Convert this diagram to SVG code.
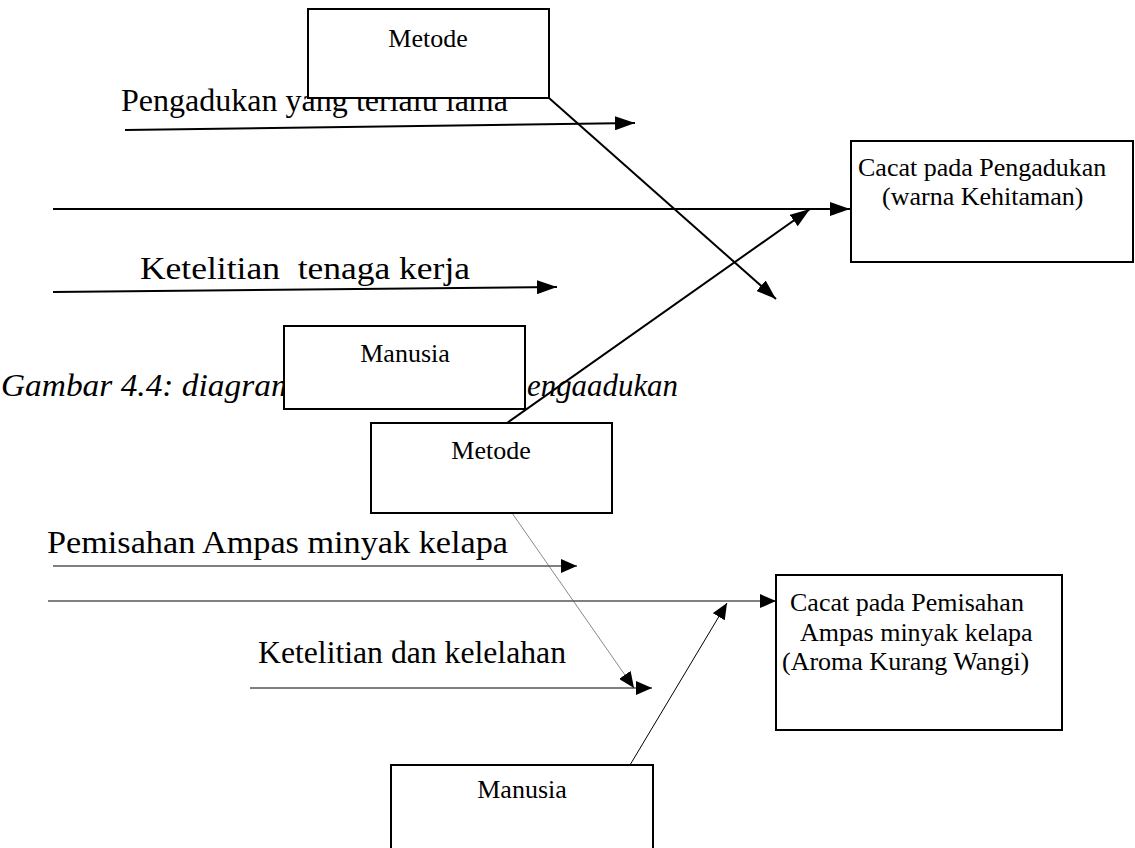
<svg xmlns="http://www.w3.org/2000/svg" width="1135" height="848" viewBox="0 0 1135 848">
<style>
.box{fill:#fff;stroke:#000;stroke-width:2}
.t{font-family:"Liberation Serif","Times New Roman",serif;fill:#000}
.lab{font-size:26px}
.big{font-size:31px}
.mid{font-size:26px}
.cap{font-size:31px;font-style:italic}
.thick{stroke:#000;stroke-width:2;fill:none}
.thin{stroke:#000;stroke-width:1;fill:none}
.hair{stroke:#555;stroke-width:0.7;fill:none}
</style>
<defs>
<marker id="ah" markerUnits="userSpaceOnUse" markerWidth="20" markerHeight="14" viewBox="0 0 20 14" refX="20" refY="7" orient="auto"><path d="M0,0L20,7L0,14Z" fill="#000"/></marker>
<marker id="ahs" markerUnits="userSpaceOnUse" markerWidth="16" markerHeight="14" viewBox="0 0 16 14" refX="16" refY="7" orient="auto"><path d="M0,0L16,7L0,14Z" fill="#000"/></marker>
</defs>
<rect width="1135" height="848" fill="#fff"/>
<g id="caption">
<text class="t cap" x="1" y="396" textLength="294" lengthAdjust="spacingAndGlyphs">Gambar 4.4: diagram</text>
<text class="t cap" x="527" y="396" textLength="151" lengthAdjust="spacingAndGlyphs">engaadukan</text>
</g>
<g id="labels">
<text class="t big" x="121" y="111" textLength="387" lengthAdjust="spacingAndGlyphs">Pengadukan yang terlalu lama</text>
<text class="t big" x="140" y="279" xml:space="preserve" textLength="330" lengthAdjust="spacingAndGlyphs">Ketelitian  tenaga kerja</text>
<text class="t big" x="47" y="553" textLength="461" lengthAdjust="spacingAndGlyphs">Pemisahan Ampas minyak kelapa</text>
<text class="t big" x="258" y="663" textLength="308" lengthAdjust="spacingAndGlyphs">Ketelitian dan kelelahan</text>
</g>
<g id="connectors">
<line class="thick" x1="125" y1="130" x2="635" y2="123" marker-end="url(#ah)"/>
<line class="thick" x1="53" y1="209" x2="850" y2="209" marker-end="url(#ah)"/>
<line class="thick" x1="53" y1="292" x2="557" y2="287" marker-end="url(#ah)"/>
<line class="thick" x1="549" y1="98" x2="776" y2="299" marker-end="url(#ah)"/>
<line class="thick" x1="507" y1="423" x2="810" y2="209" marker-end="url(#ah)"/>
<line class="thin" x1="53" y1="566" x2="577" y2="566" marker-end="url(#ahs)"/>
<line class="thin" x1="48" y1="601" x2="776" y2="601" marker-end="url(#ahs)"/>
<line class="hair" x1="512" y1="513" x2="634" y2="688" marker-end="url(#ahs)"/>
<line class="thin" x1="250" y1="688" x2="652" y2="688" marker-end="url(#ahs)"/>
<line class="thin" x1="630" y1="765" x2="727" y2="603" marker-end="url(#ahs)"/>
</g>
<g id="metode1">
<rect class="box" x="308" y="9" width="241" height="89"/>
<text class="t lab" x="428" y="47" text-anchor="middle">Metode</text>
</g>
<g id="cacat1">
<rect class="box" x="851" y="141" width="282" height="121"/>
<text class="t mid" x="858" y="176">Cacat pada Pengadukan</text>
<text class="t mid" x="882" y="205">(warna Kehitaman)</text>
</g>
<g id="manusia1">
<rect class="box" x="284" y="326" width="241" height="83"/>
<text class="t lab" x="405" y="362" text-anchor="middle">Manusia</text>
</g>
<g id="metode2">
<rect class="box" x="371" y="423" width="241" height="90"/>
<text class="t lab" x="491" y="459" text-anchor="middle">Metode</text>
</g>
<g id="cacat2">
<rect class="box" x="776" y="575" width="286" height="155"/>
<text class="t mid" x="790" y="611">Cacat pada Pemisahan</text>
<text class="t mid" x="800" y="641">Ampas minyak kelapa</text>
<text class="t mid" x="782" y="670">(Aroma Kurang Wangi)</text>
</g>
<g id="manusia2">
<rect class="box" x="391" y="765" width="262" height="100"/>
<text class="t lab" x="522" y="798" text-anchor="middle">Manusia</text>
</g>
</svg>
